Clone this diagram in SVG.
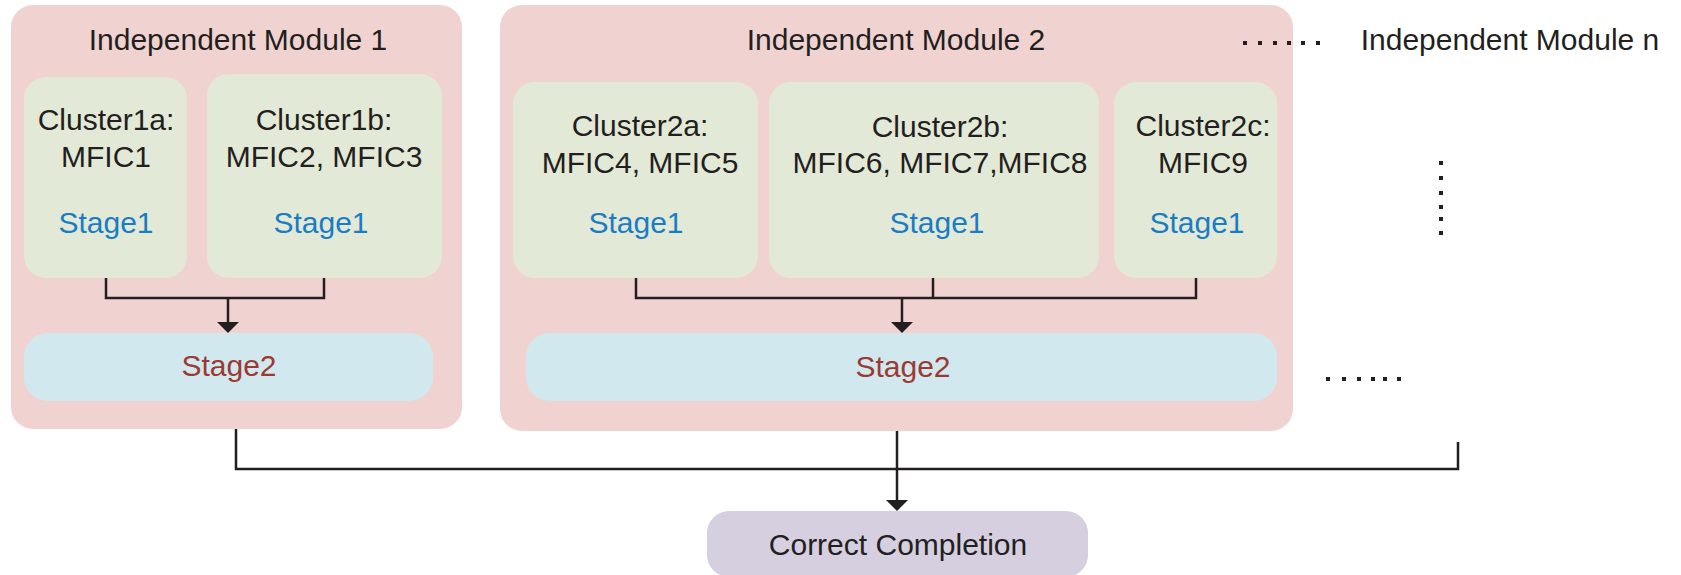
<svg xmlns="http://www.w3.org/2000/svg" width="1681" height="575" viewBox="0 0 1681 575">
  <style>
    .module { fill: #f0d3d1; }
    .cluster { fill: #e3e9d7; }
    .stage2 { fill: #d1e9ee; }
    .final { fill: #d5cfe0; }
    text { font-family: "Liberation Sans", Arial, sans-serif; font-size: 30px; text-anchor: middle; fill: #231f20; }
    .t-stage1 { fill: #1a7dc4; }
    .t-stage2 { fill: #9a3a33; }
    .wire { fill: none; stroke: #231f20; stroke-width: 2.5; }
    .dot { fill: #231f20; }
  </style>
  <defs>
    <marker id="arrow" viewBox="0 0 11 22" refX="0" refY="11" markerWidth="11" markerHeight="22" markerUnits="userSpaceOnUse" orient="auto">
      <path d="M0,0 L11,11 L0,22 Z" fill="#231f20"/>
    </marker>
  </defs>

  <!-- Module 1 -->
  <g id="module1">
    <rect class="module" x="11" y="5" width="451" height="424" rx="22"/>
    <text x="238" y="50">Independent Module 1</text>
  </g>
  <g id="cluster1a">
    <rect class="cluster" x="24" y="77" width="163" height="201" rx="22"/>
    <text x="106" y="130">Cluster1a:</text>
    <text x="106" y="167">MFIC1</text>
    <text class="t-stage1" x="106" y="233">Stage1</text>
  </g>
  <g id="cluster1b">
    <rect class="cluster" x="207" y="74" width="235" height="204" rx="22"/>
    <text x="324" y="130">Cluster1b:</text>
    <text x="324" y="167">MFIC2, MFIC3</text>
    <text class="t-stage1" x="321" y="233">Stage1</text>
  </g>
  <g id="stage2-m1">
    <rect class="stage2" x="24" y="333" width="409" height="68" rx="24"/>
    <text class="t-stage2" x="229" y="376">Stage2</text>
  </g>

  <!-- Module 2 -->
  <g id="module2">
    <rect class="module" x="500" y="5" width="793" height="426" rx="22"/>
    <text x="896" y="50">Independent Module 2</text>
  </g>
  <g id="cluster2a">
    <rect class="cluster" x="513" y="82" width="245" height="196" rx="22"/>
    <text x="640" y="136">Cluster2a:</text>
    <text x="640" y="173">MFIC4, MFIC5</text>
    <text class="t-stage1" x="636" y="233">Stage1</text>
  </g>
  <g id="cluster2b">
    <rect class="cluster" x="769" y="82" width="330" height="196" rx="22"/>
    <text x="940" y="137">Cluster2b:</text>
    <text x="940" y="173">MFIC6, MFIC7,MFIC8</text>
    <text class="t-stage1" x="937" y="233">Stage1</text>
  </g>
  <g id="cluster2c">
    <rect class="cluster" x="1114" y="82" width="163" height="196" rx="22"/>
    <text x="1203" y="136">Cluster2c:</text>
    <text x="1203" y="173">MFIC9</text>
    <text class="t-stage1" x="1197" y="233">Stage1</text>
  </g>
  <g id="stage2-m2">
    <rect class="stage2" x="526" y="333" width="751" height="68" rx="24"/>
    <text class="t-stage2" x="903" y="377">Stage2</text>
  </g>

  <!-- Module n and ellipsis marks -->
  <g id="module-n">
    <text x="1510" y="50">Independent Module n</text>
  </g>
  <g id="ellipses">
    <rect class="dot" x="1243" y="41" width="4" height="4"/>
    <rect class="dot" x="1258" y="41" width="4" height="4"/>
    <rect class="dot" x="1273" y="41" width="4" height="4"/>
    <rect class="dot" x="1287" y="41" width="4" height="4"/>
    <rect class="dot" x="1301" y="41" width="4" height="4"/>
    <rect class="dot" x="1316" y="41" width="4" height="4"/>

    <rect class="dot" x="1439" y="161" width="4" height="4"/>
    <rect class="dot" x="1439" y="176" width="4" height="4"/>
    <rect class="dot" x="1439" y="191" width="4" height="4"/>
    <rect class="dot" x="1439" y="205" width="4" height="4"/>
    <rect class="dot" x="1439" y="217" width="4" height="4"/>
    <rect class="dot" x="1439" y="231" width="4" height="4"/>

    <rect class="dot" x="1326" y="377" width="4" height="4"/>
    <rect class="dot" x="1342" y="377" width="4" height="4"/>
    <rect class="dot" x="1357" y="377" width="4" height="4"/>
    <rect class="dot" x="1371" y="377" width="4" height="4"/>
    <rect class="dot" x="1383" y="377" width="4" height="4"/>
    <rect class="dot" x="1397" y="377" width="4" height="4"/>
  </g>

  <!-- Final node -->
  <g id="correct-completion">
    <rect class="final" x="707" y="511" width="381" height="66" rx="22"/>
    <text x="898" y="555">Correct Completion</text>
  </g>

  <!-- Connectors -->
  <g id="connectors">
    <path class="wire" d="M106,278 V298 H324 V278"/>
    <path class="wire" d="M228,298 V322" marker-end="url(#arrow)"/>
    <path class="wire" d="M636,278 V298 H1196 V278 M933,278 V298"/>
    <path class="wire" d="M902,298 V322" marker-end="url(#arrow)"/>
    <path class="wire" d="M236,429 V469 H1458 V442"/>
    <path class="wire" d="M897,431 V500" marker-end="url(#arrow)"/>
  </g>
</svg>
